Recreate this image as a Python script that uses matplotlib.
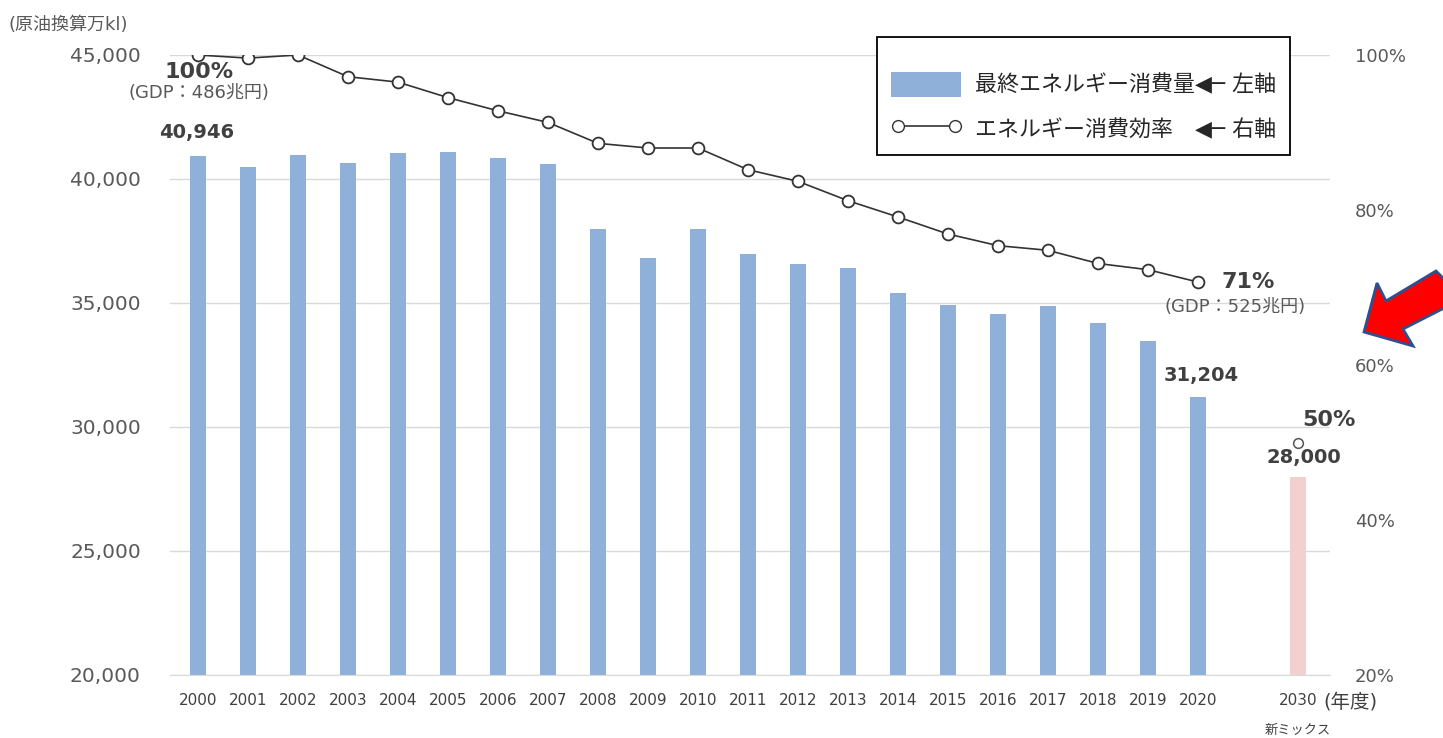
import matplotlib
matplotlib.use('Agg')
import matplotlib.pyplot as plt
from matplotlib.patches import Patch, Polygon
from matplotlib.lines import Line2D
from matplotlib.ticker import FuncFormatter
from matplotlib.transforms import blended_transform_factory

# DejaVu for latin/digits (wide, like the original), Noto CJK for kana/kanji
plt.rcParams['font.family'] = ['DejaVu Sans', 'Noto Sans CJK JP']

# data
years = ['2000', '2001', '2002', '2003', '2004', '2005', '2006', '2007', '2008', '2009', '2010',
         '2011', '2012', '2013', '2014', '2015', '2016', '2017', '2018', '2019', '2020']
consumption = [40946, 40480, 40960, 40640, 41050, 41080, 40840, 40600, 37980, 36810, 37980,
               36970, 36570, 36410, 35400, 34920, 34550, 34880, 34190, 33470, 31204]
efficiency = [100, 99.6, 100, 97.2, 96.5, 94.5, 92.8, 91.3, 88.6, 88.0, 88.0,
              85.2, 83.7, 81.2, 79.1, 76.9, 75.4, 74.8, 73.1, 72.3, 70.7]
mix_year = '2030'
mix_consumption = 28000
mix_efficiency = 50
gdp_start = '(GDP：486兆円)'
gdp_end = '(GDP：525兆円)'

W, H = 1443, 738
BLUE = '#8fb0d8'
PINK = '#f3d0d0'
GRAY = '#595959'
DARK = '#333333'
LBL = '#404040'

x = list(range(len(years)))
mix_x = len(years) + 1

fig = plt.figure(figsize=(W / 100, H / 100), dpi=100)
ax = fig.add_axes([170 / W, 1 - 675 / H, 1160 / W, 620 / H])

ax.bar(x, consumption, width=0.32, color=BLUE, zorder=2)
ax.bar(mix_x, mix_consumption, width=0.32, color=PINK, zorder=2)
ax.set_ylim(20000, 45000)
ax.set_xlim(-0.56, 22.64)
ax.set_yticks(range(20000, 45001, 5000))
ax.yaxis.set_major_formatter(FuncFormatter(lambda v, p: f'{int(v):,}'))
ax.set_xticks(x + [mix_x])
ax.set_xticklabels(years + [mix_year])
ax.grid(axis='y', color='#d9d9d9', lw=1)
ax.set_axisbelow(True)
for s in ['top', 'left', 'right']:
    ax.spines[s].set_visible(False)
ax.spines['bottom'].set_color('#d9d9d9')
ax.tick_params(axis='y', length=0, pad=21, labelsize=14.5, labelcolor=GRAY)
ax.tick_params(axis='x', length=0, pad=13, labelsize=11, labelcolor=LBL)

ax2 = ax.twinx()
ax2.plot(x, efficiency, color=DARK, lw=1.2, marker='o', ms=8.5, mfc='white', mec=DARK, mew=1.3, zorder=3)
ax2.plot([mix_x], [mix_efficiency], ls='none', marker='o', ms=7, mfc='white', mec='#555555', mew=1.1)
ax2.set_ylim(20, 100)
ax2.set_yticks(range(20, 101, 20))
ax2.yaxis.set_major_formatter(FuncFormatter(lambda v, p: f'{int(v)}%'))
ax2.tick_params(axis='y', length=0, pad=18, labelsize=13, labelcolor=GRAY)
for s in ax2.spines.values():
    s.set_visible(False)

# value labels
ax.annotate(f'{consumption[0]:,}', (x[0], consumption[0]), xytext=(-1, 10), textcoords='offset points',
            ha='center', va='bottom', fontsize=14, fontweight='bold', color=LBL)
ax.annotate(f'{consumption[-1]:,}', (x[-1], consumption[-1]), xytext=(2, 9), textcoords='offset points',
            ha='center', va='bottom', fontsize=14, fontweight='bold', color=LBL)
ax.annotate(f'{mix_consumption:,}', (mix_x, mix_consumption), xytext=(4, 7), textcoords='offset points',
            ha='center', va='bottom', fontsize=14, fontweight='bold', color=LBL)

ax2.annotate(f'{efficiency[0]:.0f}%', (x[0], efficiency[0]), xytext=(1, -12), textcoords='offset points',
             ha='center', va='center', fontsize=16, fontweight='bold', color=LBL)
ax2.annotate(gdp_start, (x[0], efficiency[0]), xytext=(1, -27), textcoords='offset points',
             ha='center', va='center', fontsize=13, color=GRAY)
ax2.annotate(f'{round(efficiency[-1])}%', (x[-1], efficiency[-1]), xytext=(17, 0), textcoords='offset points',
             ha='left', va='center', fontsize=16, fontweight='bold', color=LBL)
ax2.annotate(gdp_end, (x[-1], efficiency[-1]), xytext=(27, -18), textcoords='offset points',
             ha='center', va='center', fontsize=13, color=GRAY)
ax2.annotate(f'{mix_efficiency}%', (mix_x, mix_efficiency), xytext=(22, 16), textcoords='offset points',
             ha='center', va='center', fontsize=16, fontweight='bold', color=LBL)

# extra axis texts
tr = blended_transform_factory(ax.transData, ax.transAxes)
ax.text(mix_x + 0.5, -0.043, '(年度)', transform=tr, ha='left', va='center', fontsize=14, color=LBL)
ax.text(mix_x, -0.09, '新ミックス', transform=tr, ha='center', va='center', fontsize=9.5, color=LBL)
fig.text(8 / W, 1 - 25 / H, '(原油換算万kl)', ha='left', va='center', fontsize=13, color=GRAY)

# legend
handles = [Patch(facecolor=BLUE),
           Line2D([], [], color=DARK, lw=1.2, marker='o', ms=8.5, mfc='white', mec=DARK)]
labels = ['最終エネルギー消費量◀─ 左軸', 'エネルギー消費効率　◀─ 右軸']
leg = ax2.legend(handles, labels, loc='upper right', bbox_to_anchor=(0.9655, 1.029), borderaxespad=0,
                 fontsize=15.8, frameon=True, fancybox=False, edgecolor='black', framealpha=1,
                 handlelength=3.2, handleheight=1.35, handletextpad=0.6, labelspacing=0.9,
                 borderpad=0.65, numpoints=2, title=' ', title_fontsize=1)
leg.get_frame().set_linewidth(1.3)
for t in leg.get_texts():
    t.set_color('#262626')

# red pointer arrow
pts = [(1364, 332), (1377, 283), (1386, 301), (1436, 271), (1450, 285), (1450, 305), (1403, 329), (1413, 346)]
arrow = Polygon([(px / W, 1 - py / H) for px, py in pts], closed=True, transform=fig.transFigure,
                facecolor='#ff0000', edgecolor='#2f4f8f', lw=2)
fig.add_artist(arrow)

fig.savefig('out.png', dpi=100)
